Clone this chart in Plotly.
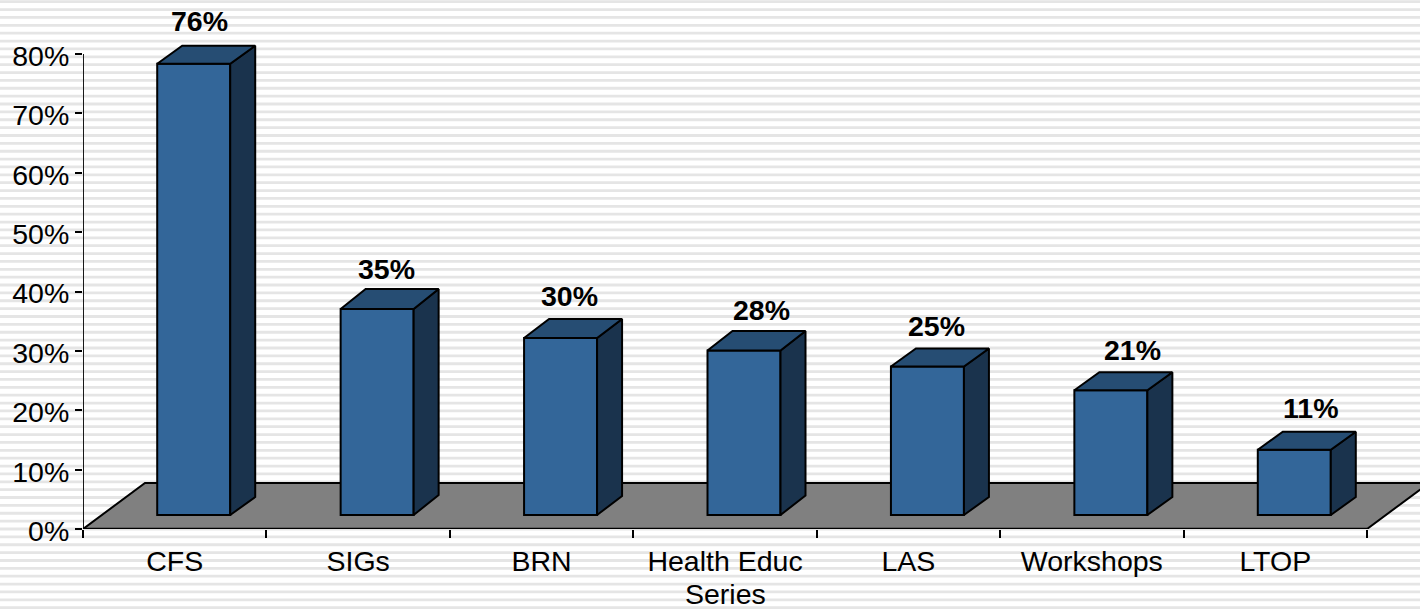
import plotly.graph_objects as go

categories = ["CFS", "SIGs", "BRN", "Health Educ", "LAS", "Workshops", "LTOP"]
values = [76, 34.7, 29.8, 27.7, 25, 21, 11]
value_labels = ["76%", "35%", "30%", "28%", "25%", "21%", "11%"]
y_ticks = [0, 10, 20, 30, 40, 50, 60, 70, 80]
axis_title = "Series"

W, H = 1420, 610
L, AXIS_BOTTOM = 83, 529
B = H - AXIS_BOTTOM
FONT = "Liberation Sans, Arial, sans-serif"
FS = 28.5
INK = "#000000"
FRONT, TOP, SIDE, FLOOR = "#336699", "#264D73", "#1A334D", "#808080"
N = len(categories)
PX_X = (1367 - L) / N
PX_Y = (AXIS_BOTTOM - 54) / 80
X_MIN, X_MAX = -0.5, -0.5 + (W - L) / PX_X
Y_MAX = AXIS_BOTTOM / PX_Y
X_END = N - 0.5
BAR_W = 73 / PX_X
DEPTH_X = 25 / PX_X
DEPTH_PX = [18, 20, 19, 19.5, 18, 18, 18]
BAR_DX, BAR_BASE = 19 / PX_X, 14 / PX_Y
FLOOR_DX, FLOOR_DY = 62 / PX_X, 46 / PX_Y
LW = 2
LABEL_XSHIFT = [6, 9, 9, 17, 9, 22, 16]
LABEL_YSHIFT = [25, 20, 23, 21.5, 23, 22, 24]

fig = go.Figure()
xs = [i + BAR_DX for i in range(N)]
fig.add_trace(go.Bar(x=xs, y=values, base=BAR_BASE, width=BAR_W, name="Series",
                     marker=dict(color=FRONT, line=dict(color=INK, width=LW)),
                     hoverinfo="skip", showlegend=False))
for x, v, d in zip(xs, values, DEPTH_PX):
    x0, x1 = x - BAR_W / 2, x + BAR_W / 2
    y0, y1 = BAR_BASE, BAR_BASE + v
    dy = d / PX_Y
    fig.add_trace(go.Scatter(
        x=[x1, x1 + DEPTH_X, x1 + DEPTH_X, x1, x1],
        y=[y0, y0 + dy, y1 + dy, y1, y0],
        mode="lines", fill="toself", fillcolor=SIDE, line=dict(color=INK, width=LW),
        hoverinfo="skip", showlegend=False))
    fig.add_trace(go.Scatter(
        x=[x0, x0 + DEPTH_X, x1 + DEPTH_X, x1, x0],
        y=[y1, y1 + dy, y1 + dy, y1, y1],
        mode="lines", fill="toself", fillcolor=TOP, line=dict(color=INK, width=LW),
        hoverinfo="skip", showlegend=False))

for x, v, d, t, sx, sy in zip(xs, values, DEPTH_PX, value_labels, LABEL_XSHIFT, LABEL_YSHIFT):
    fig.add_annotation(x=x, y=BAR_BASE + v + d / PX_Y, text=f"<b>{t}</b>", showarrow=False,
                       xshift=sx, yshift=sy, font=dict(family=FONT, size=FS, color=INK))
fig.add_annotation(x=(N - 1) / 2, xref="x", y=0, yref="y", text=axis_title, showarrow=False,
                   yshift=-65, font=dict(family=FONT, size=FS, color=INK))

shapes = []
# striped page background
STRIPE_P = 606 / 77
PLOT_W = W - L
for k in range(78):
    c = 1.7 + k * STRIPE_P
    shapes.append(dict(type="rect", xref="paper", yref="paper", layer="below",
                       x0=-L / PLOT_W, x1=1, y0=(H - c - 1.4 - B) / (H - B), y1=(H - c + 1.4 - B) / (H - B),
                       fillcolor="#E5E5E5", line=dict(width=0)))
# floor
shapes.append(dict(type="path", xref="x", yref="y", layer="below",
                   path=(f"M {X_MIN} 0 L {X_MIN + FLOOR_DX} {FLOOR_DY} "
                         f"L {X_END + FLOOR_DX} {FLOOR_DY} L {X_END} 0 Z"),
                   fillcolor=FLOOR, line=dict(color=INK, width=LW)))
# axis lines
shapes.append(dict(type="line", xref="x", yref="y", layer="above", x0=X_MIN, x1=X_MIN, y0=0, y1=80,
                   line=dict(color=INK, width=1.8)))
shapes.append(dict(type="line", xref="x", yref="y", layer="above", x0=X_MIN, x1=X_END, y0=0, y1=0,
                   line=dict(color=INK, width=2.4)))

fig.update_layout(
    width=W, height=H, margin=dict(l=L, r=0, t=0, b=B, pad=0), autosize=False,
    paper_bgcolor="#FFFFFF", plot_bgcolor="rgba(0,0,0,0)", shapes=shapes,
    showlegend=False, barmode="overlay", font=dict(family=FONT, size=FS, color=INK),
    xaxis=dict(range=[X_MIN, X_MAX], tickmode="array",
               tickvals=list(range(N)), ticktext=categories,
               ticks="", showgrid=False, zeroline=False, showline=False,
               tickfont=dict(size=FS), ticklabelstandoff=12,
               minor=dict(tickmode="array", tickvals=[i - 0.5 for i in range(N + 1)],
                          ticks="outside", ticklen=8, tickwidth=1.6, tickcolor=INK, showgrid=False)),
    yaxis=dict(range=[0, Y_MAX], tickmode="array", tickvals=y_ticks, ticktext=[f"{v}%" for v in y_ticks],
               ticks="outside", ticklen=7, tickwidth=1.6, tickcolor=INK, showgrid=False, zeroline=False,
               showline=False, tickfont=dict(size=FS), ticklabelshift=2),
)
fig.write_html("out.html", config={"displayModeBar": False},
               post_script="document.body.style.margin='0';")
